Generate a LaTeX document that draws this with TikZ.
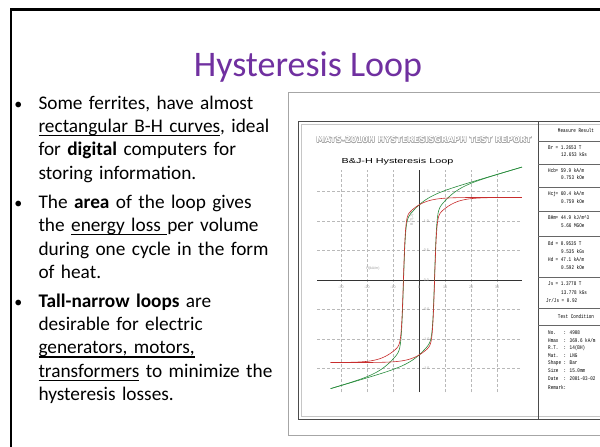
\documentclass[tikz,border=0pt]{standalone}
\usepackage{fontspec}
\setmainfont{Carlito}
\newfontfamily\plotfont{Liberation Sans}
\newfontfamily\monofont{Liberation Mono}
\newfontfamily\headfont{DejaVu Sans}
\usetikzlibrary{positioning}

\definecolor{titlepurple}{RGB}{112,48,160}
\definecolor{jcurve}{RGB}{200,45,45}
\definecolor{bcurve}{RGB}{40,140,60}

% underline kept close to the baseline
\newsavebox{\ulbox}
\newcommand{\ulword}[1]{\leavevmode\sbox{\ulbox}{#1}\rlap{\rule[-3.6pt]{\wd\ulbox}{1.3pt}}\usebox{\ulbox}}

\begin{document}
\begin{tikzpicture}[x=1pt, y=-1pt,
  bodytext/.style={anchor=base west, align=left, text width=260pt, inner sep=0pt, font=\fontsize{19.3}{23.3}\selectfont},
  dot/.style={anchor=base, inner sep=0pt, font=\fontsize{16}{20}\selectfont},
  gridline/.style={gray!55, densely dashed, line width=0.35pt},
  axisline/.style={black!80, line width=0.5pt},
  ticklbl/.style={font=\plotfont\fontsize{3.6}{4}\selectfont, text=gray!75, inner sep=0pt},
  cell/.style={font=\monofont\fontsize{4.3}{5}\selectfont, anchor=base west, inner sep=0pt, yscale=1.3},
  rtitle/.style={font=\headfont\bfseries\fontsize{8.2}{10}\selectfont, inner sep=0pt},
  declare function={
    th(\t)=tanh(max(min(\t,4),-4));
    jdn(\h)=1.05*th((\h+6)/0.8)+0.35*th((\h+6)/8);
    jup(\h)=1.05*th((\h-6)/0.8)+0.35*th((\h-6)/8);
  }
]
\useasboundingbox (0,0) rectangle (600,447);
\clip (0,0) rectangle (600,447);
\fill[white] (0,0) rectangle (600,447);

% slide edge
\draw[line width=2.6pt] (10.8,450) -- (10.8,9.5) -- (605,9.5);

% title
\node[anchor=base, font=\fontsize{36}{40}\selectfont, text=titlepurple] (title) at (308,76) {Hysteresis Loop};

% bullet points
\node[dot] (d1) at (18.3,109.3) {•};
\node[bodytext] (p1) at (38.3,109.3) {Some ferrites, have almost\\
  \ulword{rectangular B-H curves}, ideal\\
  for \textbf{digital} computers for\\
  storing information.};
\node[dot] (d2) at (18.3,208.5) {•};
\node[bodytext] (p2) at (38.3,208.5) {The \textbf{area} of the loop gives\\
  the \ulword{energy loss }per volume\\
  during one cycle in the form\\
  of heat.};
\node[dot] (d3) at (18.3,307.3) {•};
\node[bodytext] (p3) at (38.3,307.3) {\textbf{Tall-narrow loops} are\\
  desirable for electric\\
  \ulword{generators, motors,}\\
  \ulword{transformers} to minimize the\\
  hysteresis losses.};

% report sheet
\draw[gray!70, line width=0.6pt] (288.5,92) rectangle (640,435);
\draw[black!70, line width=0.8pt] (298,121) rectangle (640,419);
\draw[gray!45, line width=0.7pt] (301,124) rectangle (640,416);

\foreach \dx/\dy in {-0.45/0,0.45/0,0/-0.45,0/0.45,-0.3/-0.3,0.3/0.3,-0.3/0.3,0.3/-0.3}
  \node[rtitle, text=gray!70] at (424+\dx,140+\dy) {MATS-2010H HYSTERESISGRAPH TEST REPORT};
\node[rtitle, text=white] (rtitle) at (424,140) {MATS-2010H HYSTERESISGRAPH TEST REPORT};

\node[font=\plotfont\fontsize{7.2}{8}\selectfont, xscale=1.5, inner sep=0pt] (ptitle) at (397.5,162) {B\&J-H Hysteresis Loop};

% B-H and J-H loops
\begin{scope}[xshift=419pt, yshift=-280pt, x=2.6pt, y=59pt]
  \foreach \h in {-30,-20,-10,10,20,30}
    \draw[gridline] (\h,-1.9) -- (\h,1.86);
  \foreach \b in {-1.5,-1,-0.5,0.5,1,1.5}
    \draw[gridline] (-39.2,\b) -- (39.6,\b);
  \draw[axisline] (-39.2,0) -- (39.6,0);
  \draw[axisline] (0,-1.9) -- (0,1.86);
  \foreach \h in {-30,-20,-10,0,10,20,30}
    \node[ticklbl] at (\h,-0.12) {\h};
  \foreach \b/\t in {1.5/1.5,1/1.0,0.5/0.5,0/0.0,-0.5/-0.5,-1/-1.0,-1.5/-1.5}
    \node[ticklbl] at (2.8,\b) {\t};
  \node[ticklbl] (hlbl) at (-17.7,0.2) {H(kA/m)};
  \node[ticklbl, rotate=90] (blbl) at (-2.7,1.05) {B(T),J(T)};

  \draw[bcurve, line width=0.6pt] plot[domain=39.6:-34, samples=300] (\x,{jdn(\x)+0.013*\x});
  \draw[bcurve, line width=0.6pt] plot[domain=-34:39.6, samples=300] (\x,{jup(\x)+0.013*\x});
  \draw[jcurve, line width=0.6pt] plot[domain=39.6:-34, samples=300] (\x,{jdn(\x)});
  \draw[jcurve, line width=0.6pt] plot[domain=-34:39.6, samples=300] (\x,{jup(\x)});
\end{scope}

% result table
\draw[black!70, line width=0.5pt] (538,121) -- (538,419);
\foreach \y in {141.5,164,187.5,211,236,277,308,325}
  \draw[black!60, line width=0.4pt] (538,\y) -- (640,\y);

\node[cell, anchor=base] (mres) at (576,132.5) {Measure Result};
\node[cell] (br) at (548,149) {Br};
\node[cell] (brv) at (555.5,149) {= 1.2653 T};
\node[cell] at (561,156.5) {12.653 kGs};
\node[cell] (hcb) at (548,172) {Hcb};
\node[cell] (hcbv) at (555.5,172) {= 59.9  kA/m};
\node[cell] at (561,179.5) {0.753 kOe};
\node[cell] (hcj) at (548,195.5) {Hcj};
\node[cell] (hcjv) at (555.5,195.5) {= 60.4  kA/m};
\node[cell] at (561,203) {0.759 kOe};
\node[cell] (bhm) at (548,219.5) {BHm};
\node[cell] (bhmv) at (555.5,219.5) {= 44.9  kJ/m\textasciicircum 3};
\node[cell] at (561,227) {5.66  MGOe};
\node[cell] (bd) at (548,245) {Bd};
\node[cell] (bdv) at (555.5,245) {= 0.9535 T};
\node[cell] at (561,253) {9.535 kGs};
\node[cell] (hd) at (548,261.5) {Hd};
\node[cell] (hdv) at (555.5,261.5) {= 47.1  kA/m};
\node[cell] at (561,269.5) {0.592 kOe};
\node[cell] (js) at (548,285.5) {Js};
\node[cell] (jsv) at (555.5,285.5) {= 1.3778 T};
\node[cell] at (561,294) {13.778 kGs};
\node[cell] (jrjs) at (546,302) {Jr/Js = 0.92};
\node[cell, anchor=base] (tcond) at (576,318) {Test Condition};
\node[cell] (no) at (548,334.5) {No.};
\node[cell] at (563.5,334.5) {: 4908};
\node[cell] (hmax) at (548,342) {Hmax};
\node[cell] at (563.5,342) {: 369.6 kA/m};
\node[cell] (rt) at (548,349.5) {R.T.};
\node[cell] at (563.5,349.5) {: 14(BH)};
\node[cell] (mat) at (548,357) {Mat.};
\node[cell] at (563.5,357) {: LNG};
\node[cell] (shape) at (548,364.5) {Shape};
\node[cell] at (563.5,364.5) {: Bar};
\node[cell] (size) at (548,372) {Size};
\node[cell] at (563.5,372) {: 15.0mm};
\node[cell] (date) at (548,380) {Date};
\node[cell] at (563.5,380) {: 2001-03-02};
\node[cell] (remark) at (548,389) {Remark:};
\end{tikzpicture}
\end{document}
